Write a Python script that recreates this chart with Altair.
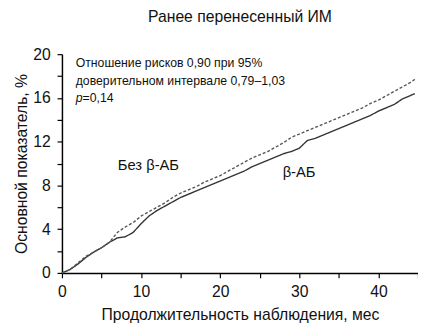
import altair as alt
import pandas as pd

months = [0, 1, 2, 3, 4, 5, 6, 7, 8, 9, 10, 11, 12, 13, 14, 15, 16, 17, 18, 19, 20,
          21, 22, 23, 24, 25, 26, 27, 28, 29, 30, 31, 32, 33, 34, 35, 36, 37, 38, 39, 40,
          41, 42, 43, 44, 44.6]
no_bb = [0, 0.3, 0.9, 1.5, 1.9, 2.3, 2.8, 3.7, 4.2, 4.6, 5.2, 5.6, 6.0, 6.4, 6.9, 7.3,
         7.6, 7.9, 8.3, 8.6, 8.9, 9.3, 9.7, 10.1, 10.5, 10.8, 11.1, 11.5, 11.9, 12.4, 12.7,
         13.0, 13.3, 13.6, 13.9, 14.2, 14.5, 14.8, 15.1, 15.5, 15.8, 16.2, 16.6, 17.0, 17.4, 17.7]
bb = [0, 0.3, 0.8, 1.4, 1.9, 2.3, 2.8, 3.2, 3.3, 3.7, 4.5, 5.2, 5.7, 6.1, 6.5, 6.9,
      7.2, 7.5, 7.8, 8.1, 8.4, 8.7, 9.0, 9.3, 9.7, 10.0, 10.3, 10.6, 10.9, 11.1, 11.4,
      12.1, 12.3, 12.6, 12.9, 13.2, 13.5, 13.8, 14.1, 14.4, 14.8, 15.1, 15.4, 15.9, 16.2, 16.4]
groups = ["β-АБ", "Без β-АБ"]

title_text = "Ранее перенесенный ИМ"
x_title = "Продолжительность наблюдения, мес"
y_title = "Основной показатель, %"
ann1 = "Отношение рисков 0,90 при 95%"
ann2 = "доверительном интервале 0,79–1,03"
ann_p = "p"
ann_pv = "=0,14"

FONT = "Liberation Sans"

df = pd.concat([
    pd.DataFrame({"month": months, "value": bb, "group": groups[0]}),
    pd.DataFrame({"month": months, "value": no_bb, "group": groups[1]}),
])

lines = alt.Chart(df).mark_line(strokeWidth=1.4).encode(
    x=alt.X("month:Q", scale=alt.Scale(domain=[0, 45], nice=False),
            axis=alt.Axis(values=list(range(0, 46, 5)),
                          labelExpr="datum.value % 10 == 0 ? datum.label : ''",
                          title=x_title)),
    y=alt.Y("value:Q", scale=alt.Scale(domain=[0, 20], nice=False),
            axis=alt.Axis(values=list(range(0, 21, 2)),
                          labelExpr="datum.value % 4 == 0 ? datum.label : ''",
                          title=y_title)),
    color=alt.Color("group:N", scale=alt.Scale(domain=groups, range=["#333333", "#555555"]), legend=None),
    strokeDash=alt.StrokeDash("group:N", scale=alt.Scale(domain=groups, range=[[1, 0], [3, 2]]), legend=None),
    detail="group:N",
)

def label(txt, x, y, size=12.5, style="normal"):
    return alt.Chart(pd.DataFrame({"t": [txt]})).mark_text(
        align="left", baseline="middle", fontSize=size, font=FONT, fontStyle=style, color="#111111"
    ).encode(text="t:N", x=alt.value(x), y=alt.value(y))

chart = alt.layer(
    lines,
    label(ann1, 14, 9),
    label(ann2, 14, 27),
    label(ann_p, 14, 45, style="italic"),
    label(ann_pv, 21, 45),
    label(groups[1], 57, 113, size=15),
    label(groups[0], 225, 120, size=15),
).properties(
    width=363, height=223,
    title=alt.TitleParams(title_text, fontSize=16, font=FONT, fontWeight="normal", offset=22, anchor="middle", color="#111111"),
    autosize=alt.AutoSizeParams(type="none"),
    padding={"left": 55, "top": 44, "right": 0, "bottom": 49},
).configure_view(stroke=None).configure_axis(
    grid=False, domainColor="#000000", domainWidth=1.5, tickColor="#000000", tickSize=5, tickWidth=1.2,
    labelFont=FONT, labelFontSize=16, labelColor="#111111",
    titleFont=FONT, titleFontSize=16, titleFontWeight="normal", titleColor="#111111",
).configure_axisX(labelPadding=6, titlePadding=8, labelFlush=False).configure_axisY(labelPadding=7, titlePadding=3)

chart.save("out.html", embed_options={"renderer": "svg", "actions": False})
